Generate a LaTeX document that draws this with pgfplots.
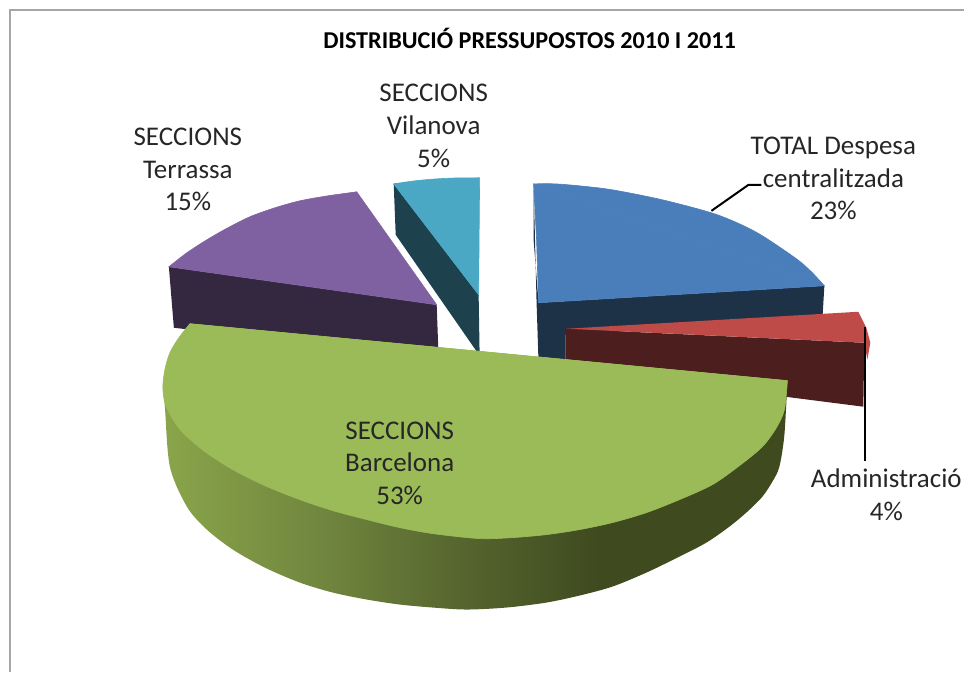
\documentclass[border=0pt]{standalone}
\usepackage{pgfplots}
\pgfplotsset{compat=1.18}
\usepackage{fontspec}
\setmainfont{Carlito}
\definecolor{tealtop}{HTML}{4BA8C4}
\definecolor{tealside}{HTML}{1D424D}
\definecolor{purtop}{HTML}{7F60A0}
\definecolor{purside}{HTML}{33283F}
\definecolor{blutop}{HTML}{4A7EBB}
\definecolor{bluside}{HTML}{1D3147}
\definecolor{redtop}{HTML}{BE4B48}
\definecolor{redside}{HTML}{4D1E1E}
\definecolor{grntop}{HTML}{9BBB59}
\definecolor{txt}{HTML}{262626}
\definecolor{framec}{HTML}{A6A6A6}
\definecolor{gsa}{HTML}{8AA54A}
\definecolor{gsb}{HTML}{70853E}
\definecolor{gsc}{HTML}{55652E}
\definecolor{gsd}{HTML}{3F4A1F}
\pgfdeclarehorizontalshading{greenside}{100bp}{
 color(0bp)=(gsa);
 color(25bp)=(gsa);
 color(38bp)=(gsb);
 color(49bp)=(gsc);
 color(60bp)=(gsd);
 color(100bp)=(gsd)}
\tikzset{lab/.style={font=\fontsize{27.1}{32.8}\selectfont, text=txt, align=center, anchor=center, inner sep=0pt},
  seam/.style={fill=#1, draw=#1, line width=0.6bp, line join=round}}
\begin{document}
\begin{tikzpicture}
\begin{axis}[
  scale only axis, width=965bp, height=673bp,
  xmin=0, xmax=965, ymin=0, ymax=673, y dir=reverse,
  hide axis, clip=false,
]
% page extent
\addplot[draw=none] coordinates {(0,0) (965,673)};
% frame
\addplot[framec, line width=1.5bp] coordinates {(10,673) (10,10) (965,10)};
% Vilanova
\addplot[fill=tealside, draw=none] coordinates {(394,184) (479,295) (480,356) (396,235)} --cycle;
\addplot[seam=tealtop] coordinates {(394,184) (479,295) (480,178)} --cycle;
\addplot[seam=tealtop, smooth] coordinates {(394,184) (415,181) (437,179) (460,178) (480,178)} --cycle;
% Terrassa
\addplot[fill=purside, draw=none] coordinates {(169,267) (437,305) (439,359) (174,328)} --cycle;
\addplot[seam=purtop] coordinates {(357,192) (169,267) (437,305)} --cycle;
\addplot[seam=purtop, smooth] coordinates {(357,192) (328,196) (300,201) (275,208) (250,217) (228,228) (207,240) (187,253) (169,267)} --cycle;
% Despesa
\addplot[fill=bluside, draw=none] coordinates {(534,184) (534,240) (539,303) (825,286) (823,320) (566,335) (566,362) (539,364) (537,303)} --cycle;
\addplot[seam=blutop] coordinates {(534,184) (825,286) (539,303) (537,240)} --cycle;
\addplot[seam=blutop, smooth] coordinates {(534,184) (555,184) (580,186) (613,190) (663,200) (712,213) (740,224) (763,236) (797,259) (812,272) (825,286)} --cycle;
% Administracio
\addplot[fill=redside, draw=none] coordinates {(566,329) (865,343) (864,407) (566,369)} --cycle;
\addplot[fill=redtop, draw=none] coordinates {(567,329) (859,312) (867,328) (871,343) (868,360) (865,343)} --cycle;
% Barcelona
\addplot[shading=greenside, draw=none, smooth] coordinates {(163,387) (165,407) (170,467) (187,507) (207,530) (233,550) (265,568) (300,583) (333,593) (367,600) (400,605) (433,608) (467,610) (507,608) (547,603) (580,596) (613,587) (647,573) (680,557) (707,543) (730,527) (748,512) (763,497) (773,482) (780,467) (785,435) (788,381)} --cycle;
\addplot[seam=grntop, smooth] coordinates {(788,381) (785,410) (777,428) (763,447) (740,466) (713,485) (680,500) (647,513) (613,523) (580,530) (547,535) (513,538) (480,539) (433,534) (400,528) (367,520) (333,511) (300,500) (265,486) (233,470) (205,452) (183,433) (172,418) (165,403) (163,387) (165,370) (170,353) (179,338) (190,324)} --cycle;
\addplot[seam=grntop] coordinates {(190,324) (438,359) (453,361) (467,363) (480,365) (500,366) (566,369) (788,381)} --cycle;
% leaders
\addplot[black, line width=2bp] coordinates {(712,211) (749,185) (762,185)};
\addplot[black, line width=2bp] coordinates {(866,327) (866,461)};
% text
\node[font=\fontsize{24.3}{29}\selectfont\bfseries, text=black, inner sep=0pt] at (axis cs:530,38.5) {DISTRIBUCIÓ PRESSUPOSTOS 2010 I 2011};
\node[lab] at (axis cs:434,126) {SECCIONS\\Vilanova\\5\%};
\node[lab] at (axis cs:188,169.5) {SECCIONS\\Terrassa\\15\%};
\node[lab] at (axis cs:834,178.5) {TOTAL Despesa\\centralitzada\\23\%};
\node[lab] at (axis cs:400,463.5) {SECCIONS\\Barcelona\\53\%};
\node[lab] at (axis cs:887,495) {Administració\\4\%};
\end{axis}
\end{tikzpicture}
\end{document}
